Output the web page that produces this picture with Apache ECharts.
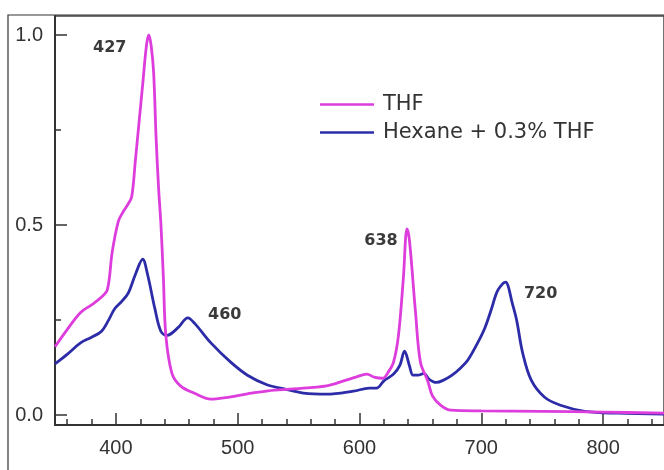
<!DOCTYPE html>
<html>
<head>
<meta charset="utf-8">
<style>
  html, body { margin: 0; padding: 0; background: #fff; }
  #chart { width: 664px; height: 470px; }
</style>
<script src="https://cdn.jsdelivr.net/npm/echarts@6/dist/echarts.min.js"></script>
</head>
<body>
<div id="chart"></div>
<script>
// THF absorbance (nm, normalised)
var thfWavelength = [350, 360, 371, 380, 388, 393, 397, 402, 406, 410, 413, 416, 419, 422, 425, 427, 429, 431, 433, 435, 437, 439, 441, 446, 453, 464, 478, 490, 508, 525, 546, 573, 587, 597, 606, 612, 619, 624, 628, 632, 636, 639, 641, 646, 650, 656, 660, 667, 675, 700, 750, 800, 850];
var thfAbsorbance = [0.18, 0.225, 0.27, 0.29, 0.31, 0.33, 0.43, 0.51, 0.535, 0.555, 0.575, 0.67, 0.77, 0.87, 0.97, 1.0, 0.97, 0.9, 0.73, 0.6, 0.5, 0.36, 0.21, 0.11, 0.077, 0.058, 0.042, 0.046, 0.056, 0.064, 0.069, 0.077, 0.09, 0.10, 0.108, 0.10, 0.097, 0.115, 0.14, 0.21, 0.36, 0.49, 0.46, 0.27, 0.14, 0.09, 0.05, 0.025, 0.013, 0.011, 0.01, 0.008, 0.005];

// Hexane + 0.3% THF
var hexWavelength = [350, 360, 371, 380, 388, 394, 399, 405, 410, 416, 422, 426, 432, 437, 442, 451, 459, 465, 478, 494, 508, 524, 538, 554, 573, 595, 608, 614, 620, 628, 633, 637, 641, 644, 648, 653, 657, 663, 669, 676, 683, 689, 697, 703, 708, 713, 718, 720, 722, 725, 729, 734, 741, 752, 765, 785, 812, 850];
var hexAbsorbance = [0.135, 0.16, 0.19, 0.205, 0.22, 0.25, 0.28, 0.30, 0.32, 0.37, 0.41, 0.37, 0.28, 0.22, 0.21, 0.23, 0.256, 0.24, 0.19, 0.14, 0.105, 0.08, 0.069, 0.058, 0.055, 0.063, 0.071, 0.071, 0.09, 0.108, 0.13, 0.168, 0.13, 0.105, 0.105, 0.11, 0.095, 0.086, 0.092, 0.105, 0.124, 0.145, 0.19, 0.23, 0.276, 0.325, 0.347, 0.35, 0.34, 0.30, 0.25, 0.163, 0.092, 0.047, 0.026, 0.01, 0.005, 0.003];

var seriesNames = ['THF', 'Hexane + 0.3% THF'];

// peak annotations
var thfPeaks = [[427, 1.0], [639, 0.49]];
var thfPeakLabels = ['427', '638'];
var hexPeaks = [[459, 0.256], [720, 0.35]];
var hexPeakLabels = ['460', '720'];

var xMajorTicks = [400, 500, 600, 700, 800];
var xMinorTicks = [360, 380, 420, 440, 460, 480, 520, 540, 560, 580, 620, 640, 660, 680, 720, 740, 760, 780, 820, 840];
var yMajorTicks = [0, 0.5, 1.0];
var yMinorTicks = [0.25, 0.75];

function pairs(xs, ys) {
  return xs.map(function (x, i) { return [x, ys[i]] })
}

function peakMarks(coords, labels, offsets) {
  return coords.map(function (c, i) {
    return { coord: c, value: labels[i], label: { offset: offsets[i] } }
  })
}

var txt = '#333'
var font = 'Liberation Sans'
var peakLabel = { show: true, formatter: '{c}', fontSize: 16, fontWeight: 'bold', color: '#3a3a3a', fontFamily: 'DejaVu Sans' }

var myChart = echarts.init(document.getElementById('chart'))
myChart.setOption({
  animation: false,
  grid: {
    left: 55, top: 16, width: 617, bottom: 45,
    show: true, borderColor: '#444', borderWidth: 1.5
  },
  graphic: [{
    type: 'rect', silent: true,
    shape: { x: 8, y: 15, width: 700, height: 500 },
    style: { fill: null, stroke: '#333', lineWidth: 1.2 }
  }],
  legend: {
    orient: 'vertical', left: 315, top: 89, itemGap: 7,
    itemWidth: 54, itemHeight: 14,
    textStyle: { fontSize: 21, color: txt, fontFamily: 'DejaVu Sans', padding: [0, 0, 0, 4] },
    data: seriesNames.map(function (n) { return { name: n, icon: 'path://M0,6 L54,6 L54,8.6 L0,8.6 Z' } })
  },
  xAxis: [{
    type: 'value', min: 350, max: 850, position: 'bottom',
    splitLine: { show: false },
    axisLine: { onZero: false, lineStyle: { color: '#333', width: 2 } },
    axisTick: { inside: true, length: 12, customValues: xMajorTicks, lineStyle: { color: '#333', width: 1.5 } },
    axisLabel: { customValues: xMajorTicks, fontSize: 20, color: txt, fontFamily: font, margin: 13 }
  }, {
    type: 'value', min: 350, max: 850, position: 'bottom',
    splitLine: { show: false },
    axisLine: { show: false, onZero: false },
    axisTick: { inside: true, length: 6, customValues: xMinorTicks, lineStyle: { color: '#333', width: 1.5 } },
    axisLabel: { show: false }
  }],
  yAxis: [{
    type: 'value', min: -0.026, max: 1.05, position: 'left',
    splitLine: { show: false },
    axisLine: { show: true, onZero: false, lineStyle: { color: '#333', width: 2 } },
    axisTick: { inside: true, length: 12, customValues: yMajorTicks, lineStyle: { color: '#333', width: 1.5 } },
    axisLabel: {
      customValues: yMajorTicks, fontSize: 20, color: txt, fontFamily: font, margin: 12,
      formatter: function (v) { return v.toFixed(1) }
    }
  }, {
    type: 'value', min: -0.026, max: 1.05, position: 'left',
    splitLine: { show: false },
    axisLine: { show: false, onZero: false },
    axisTick: { inside: true, length: 6, customValues: yMinorTicks, lineStyle: { color: '#333', width: 1.5 } },
    axisLabel: { show: false }
  }],
  series: [{
    name: seriesNames[0], type: 'line', smooth: 0.35, showSymbol: false,
    data: pairs(thfWavelength, thfAbsorbance),
    itemStyle: { color: '#dd3ddd' },
    lineStyle: { color: '#dd3ddd', width: 2.8 },
    markPoint: {
      symbol: 'circle', symbolSize: 0,
      label: peakLabel,
      data: peakMarks(thfPeaks, thfPeakLabels, [[-39, 13], [-26, 12]])
    },
    z: 3
  }, {
    name: seriesNames[1], type: 'line', smooth: 0.35, showSymbol: false,
    data: pairs(hexWavelength, hexAbsorbance),
    itemStyle: { color: '#2c2ca8' },
    lineStyle: { color: '#2c2ca8', width: 2.8 },
    markPoint: {
      symbol: 'circle', symbolSize: 0,
      label: peakLabel,
      data: peakMarks(hexPeaks, hexPeakLabels, [[37, -3], [35, 12]])
    },
    z: 2
  }]
})
window.onresize = myChart.resize
</script>
</body>
</html>
